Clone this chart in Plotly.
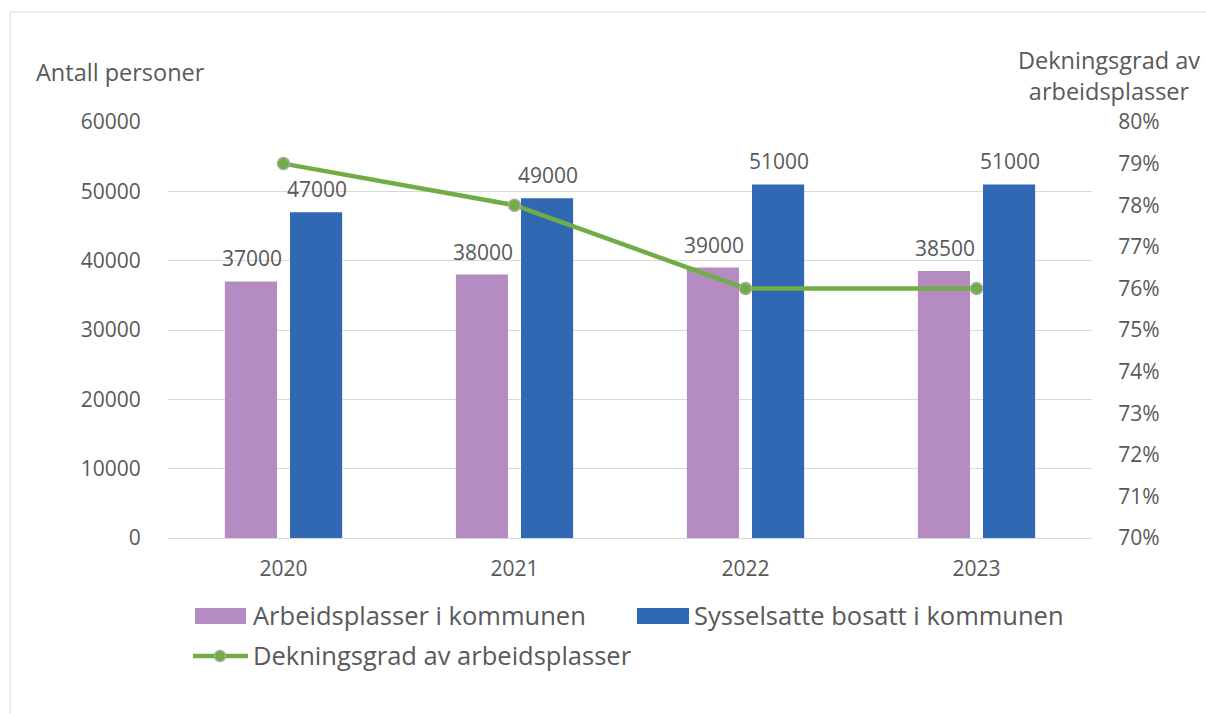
import plotly.graph_objects as go

# Data
years = ["2020", "2021", "2022", "2023"]
arbeidsplasser = [37000, 38000, 39000, 38500]
sysselsatte = [47000, 49000, 51000, 51000]
dekningsgrad = [0.79, 0.78, 0.76, 0.76]

left_ticks = [0, 10000, 20000, 30000, 40000, 50000, 60000]
right_ticks = [0.70, 0.71, 0.72, 0.73, 0.74, 0.75, 0.76, 0.77, 0.78, 0.79, 0.80]

name_a = "Arbeidsplasser i kommunen"
name_s = "Sysselsatte bosatt i kommunen"
name_d = "Dekningsgrad av arbeidsplasser"

PURPLE = "#B48CC1"
BLUE = "#3068B4"
GREEN = "#70AD47"
MARKER_EDGE = "#A9A9A9"
TEXT = "#595959"
GRID = "#D9D9D9"
FONT = "Open Sans"

W, H = 1206, 714
L, R, T, B = 168, 114, 122, 176
PW, PH = W - L - R, H - T - B


def px(xp):
    return (xp - L) / PW


def py(yp):
    return (H - B - yp) / PH


fig = go.Figure()
fig.add_trace(go.Bar(x=years, y=arbeidsplasser, name=name_a,
                     marker=dict(color=PURPLE, line=dict(width=0))))
fig.add_trace(go.Bar(x=years, y=sysselsatte, name=name_s,
                     marker=dict(color=BLUE, line=dict(width=0))))
fig.add_trace(go.Scatter(x=years, y=dekningsgrad, name=name_d, yaxis="y2",
                         mode="lines+markers",
                         line=dict(color=GREEN, width=4.5),
                         marker=dict(size=12, color=GREEN,
                                     line=dict(color=MARKER_EDGE, width=1.5))))

annotations = []
# value labels above the bars (x given as category index)
for vals, shift in ((arbeidsplasser, -32), (sysselsatte, 33)):
    for i, v in enumerate(vals):
        annotations.append(dict(x=i, y=v, xref="x", yref="y", text=str(v),
                                showarrow=False, xshift=shift, yshift=7,
                                yanchor="bottom",
                                font=dict(size=21, color=TEXT, family=FONT)))

# axis titles
annotations.append(dict(x=px(34), y=py(72), xref="paper", yref="paper",
                        text="Antall personer", showarrow=False,
                        xanchor="left", yanchor="middle",
                        font=dict(size=23.5, color=TEXT, family=FONT)))
annotations.append(dict(x=px(1109), y=py(75), xref="paper", yref="paper",
                        text="Dekningsgrad av<br>arbeidsplasser",
                        showarrow=False, xanchor="center", yanchor="middle",
                        font=dict(size=23.5, color=TEXT, family=FONT)))

# legend
legend_font = dict(size=25.5, color=TEXT, family=FONT)
shapes = [
    dict(type="rect", xref="paper", yref="paper",
         x0=px(10), x1=px(1240), y0=py(740), y1=py(12),
         line=dict(color=GRID, width=1), fillcolor="rgba(0,0,0,0)", layer="below"),
    dict(type="rect", xref="paper", yref="paper",
         x0=px(195), x1=px(246), y0=py(624), y1=py(608),
         fillcolor=PURPLE, line=dict(width=0)),
    dict(type="rect", xref="paper", yref="paper",
         x0=px(637), x1=px(689), y0=py(624), y1=py(608),
         fillcolor=BLUE, line=dict(width=0)),
    dict(type="line", xref="paper", yref="paper",
         x0=px(193), x1=px(248), y0=py(656), y1=py(656),
         line=dict(color=GREEN, width=4.5)),
    dict(type="circle", xref="paper", yref="paper",
         x0=px(214.5), x1=px(225.5), y0=py(661.5), y1=py(650.5),
         fillcolor=GREEN, line=dict(color=MARKER_EDGE, width=1.5)),
]
for text, x0, y0 in ((name_a, 251, 615), (name_s, 692, 615), (name_d, 251, 655)):
    annotations.append(dict(x=px(x0), y=py(y0), xref="paper", yref="paper",
                            text=text, showarrow=False, xanchor="left",
                            yanchor="middle", font=legend_font))

fig.update_layout(
    width=W, height=H,
    margin=dict(l=L, r=R, t=T, b=B, pad=0),
    paper_bgcolor="white", plot_bgcolor="white",
    barmode="group", bargap=0.436, bargroupgap=0.2,
    showlegend=False,
    font=dict(family=FONT, color=TEXT),
    xaxis=dict(type="category", range=[-0.5, 3.5], showgrid=False,
               showline=True, linecolor=GRID, linewidth=1,
               ticks="outside", ticklen=12, tickcolor="rgba(0,0,0,0)",
               tickfont=dict(size=21, color=TEXT, family=FONT)),
    yaxis=dict(range=[0, 60000], tickvals=left_ticks,
               ticktext=[str(v) for v in left_ticks],
               showgrid=True, gridcolor=GRID, gridwidth=1,
               zeroline=False, showline=False,
               ticks="outside", ticklen=22, tickcolor="rgba(0,0,0,0)",
               tickfont=dict(size=21, color=TEXT, family=FONT)),
    yaxis2=dict(range=[0.70, 0.80], tickvals=right_ticks,
                ticktext=[f"{round(v * 100)}%" for v in right_ticks],
                overlaying="y", side="right", showgrid=False,
                zeroline=False, showline=False,
                ticks="outside", ticklen=21, tickcolor="rgba(0,0,0,0)",
                tickfont=dict(size=21, color=TEXT, family=FONT)),
    annotations=annotations,
    shapes=shapes,
)

fig.write_html("out.html")
